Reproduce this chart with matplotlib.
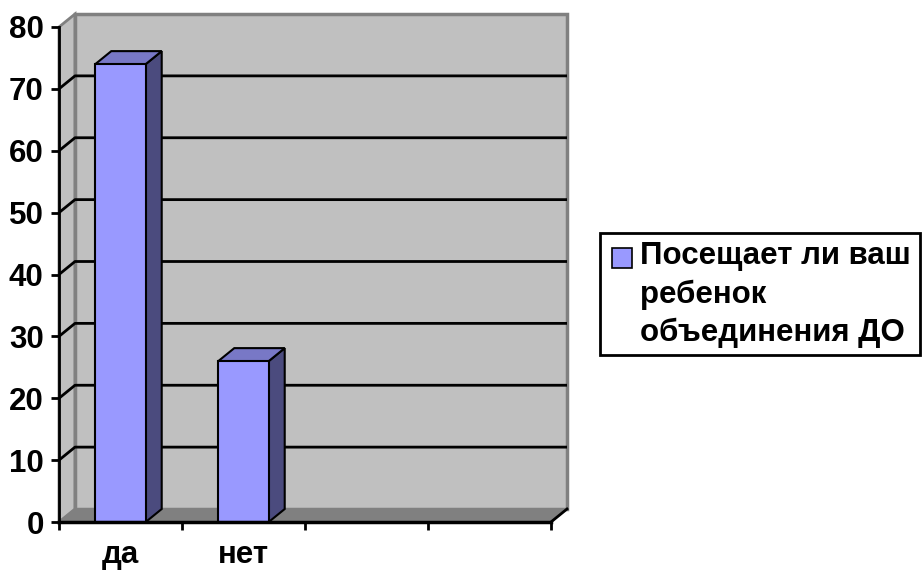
import matplotlib
matplotlib.use('Agg')
import matplotlib.pyplot as plt
from matplotlib.patches import Polygon, Rectangle

# ---- data ----
categories = ['да', 'нет', '', '']
values = [74, 26]
series_name = 'Посещает ли ваш\nребенок\nобъединения ДО'
yticks = [0, 10, 20, 30, 40, 50, 60, 70, 80]

plt.rcParams['font.family'] = ['Liberation Sans', 'DejaVu Sans']
plt.rcParams['font.weight'] = 'bold'

W, H = 923, 575
fig = plt.figure(figsize=(W / 100, H / 100), dpi=100)
fig.patch.set_facecolor('white')

FS = 22.5

# plot area in pixels (front plane + depth)
left_px, right_px, top_px, bottom_px = 59, 567, 14, 522
ax = fig.add_axes([left_px / W, (H - bottom_px) / H,
                   (right_px - left_px) / W, (bottom_px - top_px) / H])

n = len(categories)
ymax = yticks[-1]
depth_px_x, depth_px_y = 16, 13
front_w_px = (right_px - left_px) - depth_px_x
dx = depth_px_x * n / front_w_px
front_h_px = (bottom_px - top_px) - depth_px_y
dy = depth_px_y * ymax / front_h_px

ax.set_xlim(0, n + dx)
ax.set_ylim(0, ymax + dy)
ax.set_facecolor('none')

wall_c = '#C0C0C0'
wall_edge = '#808080'
floor_c = '#808080'

# walls
ax.add_patch(Polygon([(0, 0), (dx, dy), (dx, ymax + dy), (0, ymax)], closed=True,
                     fc=wall_c, ec=wall_edge, lw=2, clip_on=False, zorder=0))
ax.add_patch(Rectangle((dx, dy), n, ymax, fc=wall_c, ec=wall_edge, lw=2.5,
                       clip_on=False, zorder=0))
ax.add_patch(Polygon([(0, 0), (n, 0), (n + dx, dy), (dx, dy)], closed=True,
                     fc=floor_c, ec=floor_c, lw=1, clip_on=False, zorder=0.5))

# gridlines
for v in yticks[1:-1]:
    ax.plot([0, dx, n + dx], [v, v + dy, v + dy], color='black', lw=2,
            solid_capstyle='butt', zorder=1)

# bars
bw = 0.41
front_c = '#9999FF'
top_c = '#7878C6'
side_c = '#4B4B7E'
for i, v in enumerate(values):
    xc = i + 0.5
    x0, x1 = xc - bw / 2, xc + bw / 2
    ax.add_patch(Polygon([(x1, 0), (x1 + dx, dy), (x1 + dx, v + dy), (x1, v)], closed=True,
                         fc=side_c, ec='black', lw=1.5, zorder=3, clip_on=False))
    ax.add_patch(Polygon([(x0, v), (x1, v), (x1 + dx, v + dy), (x0 + dx, v + dy)], closed=True,
                         fc=top_c, ec='black', lw=1.5, zorder=3, clip_on=False))
ax.bar([i + 0.5 for i in range(len(values))], values, width=bw, color=front_c,
       edgecolor='black', lw=1.5, zorder=4)

# right floor diagonal
ax.plot([n, n + dx], [0, dy], color='black', lw=2, zorder=2, clip_on=False)

# axes: spines and ticks
for s in ['top', 'right']:
    ax.spines[s].set_visible(False)
ax.spines['left'].set_bounds(0, ymax)
ax.spines['bottom'].set_bounds(0, n)
ax.spines['left'].set_linewidth(2)
ax.spines['bottom'].set_linewidth(2.5)
ax.spines['left'].set_zorder(5)
ax.spines['bottom'].set_zorder(5)

ax.set_yticks(yticks)
ax.set_yticklabels([str(t) for t in yticks])
ax.tick_params(axis='y', direction='out', length=6, width=2, pad=5,
               labelsize=FS, colors='black')
ax.set_xticks(range(n + 1))
ax.set_xticklabels([''] * (n + 1))
ax.tick_params(axis='x', which='major', direction='out', length=6, width=2)
ax.set_xticks([i + 0.5 for i in range(n)], minor=True)
ax.set_xticklabels(categories, minor=True)
ax.tick_params(axis='x', which='minor', length=0, pad=13, labelsize=FS)
for lab in ax.get_yticklabels() + ax.get_xticklabels(minor=True):
    lab.set_fontweight('bold')

# legend (drawn as a framed box to match the original layout)
lx0, lx1, ly0, ly1 = 600, 920, 233, 355
fig.add_artist(Rectangle((lx0 / W, (H - ly1) / H), (lx1 - lx0) / W, (ly1 - ly0) / H,
                         transform=fig.transFigure, fc='white', ec='black', lw=2))
fig.add_artist(Rectangle((612 / W, (H - 268) / H), 20 / W, 20 / H,
                         transform=fig.transFigure, fc=front_c, ec='black', lw=1.2))
fig.text(640 / W, (H - 241) / H, series_name, ha='left', va='top',
         fontsize=FS, fontweight='bold', linespacing=1.36)

fig.savefig('out.png', dpi=100, facecolor='white')
